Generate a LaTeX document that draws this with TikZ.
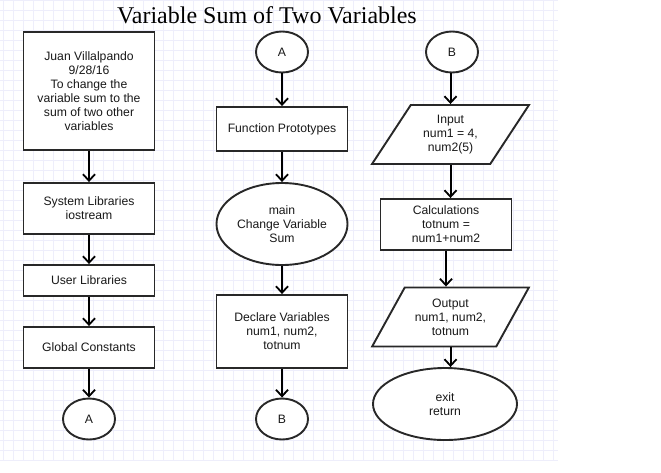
\documentclass[tikz,border=0pt]{standalone}
\usepackage{fontspec}
\setmainfont{Liberation Sans}
\newfontfamily\titlefont{Liberation Serif}
\usetikzlibrary{shapes.geometric,arrows.meta}

\definecolor{gridcol}{RGB}{238,238,251}
\definecolor{edgecol}{RGB}{40,40,40}
\definecolor{textcol}{RGB}{25,25,25}

\tikzset{
  flow/.style={draw=edgecol, line width=1.9pt, fill=white, align=center, text=textcol,
    font=\fontsize{12.2}{14}\selectfont, inner sep=1pt},
  stepbox/.style={flow, rectangle, minimum width=131pt},
  term/.style={flow, ellipse, minimum width=52pt, minimum height=41pt},
  inout/.style={flow, trapezium, trapezium left angle=56, trapezium right angle=124,
    trapezium stretches=true, minimum width=157pt, minimum height=59pt},
  arr/.style={line width=2pt, -{Straight Barb[length=6.5pt,width=12pt,line width=1.8pt]}},
  gridline/.style={gridcol, line width=0.6pt}
}

\begin{document}
\begin{tikzpicture}[x=1pt,y=-1pt]

\useasboundingbox (0,0) rectangle (661,472);
\foreach \x in {3,13,...,553} \draw[gridline] (\x,0) -- (\x,460);
\foreach \y in {0,10,...,460} \draw[gridline] (0,\y) -- (558,\y);

\node[font=\titlefont\fontsize{24}{26}\selectfont, anchor=base] (title) at (267,23) {Variable Sum of Two Variables};

\node[stepbox, minimum height=118pt] (intro) at (89,91) {Juan Villalpando\\9/28/16\\To change the\\variable sum to the\\sum of two other\\variables};
\node[stepbox, minimum height=51pt] (syslib) at (89,208.5) {System Libraries\\iostream};
\node[stepbox, minimum height=31pt] (usrlib) at (89,280.5) {User Libraries};
\node[stepbox, minimum height=41pt] (globconst) at (89,347.5) {Global Constants};
\node[term] (offA) at (89,419) {A};
\draw[arr] (intro) -- (syslib);
\draw[arr] (syslib) -- (usrlib);
\draw[arr] (usrlib) -- (globconst);
\draw[arr] (globconst) -- (offA);

\node[term] (onA) at (282,52) {A};
\node[stepbox, minimum height=44pt] (proto) at (282,129) {Function Prototypes};
\node[flow, ellipse, minimum width=131pt, minimum height=82pt] (main) at (282,224) {main\\Change Variable\\Sum};
\node[stepbox, minimum height=73pt] (declare) at (282,331.5) {Declare Variables\\num1, num2,\\totnum};
\node[term] (offB) at (282,419) {B};
\draw[arr] (onA) -- (proto);
\draw[arr] (proto) -- (main);
\draw[arr] (main) -- (declare);
\draw[arr] (declare) -- (offB);

\node[term] (onB) at (452,52) {B};
\node[inout] (input) at (450.5,134.5) {Input\\num1 = 4,\\num2(5)};
\node[stepbox, minimum height=51pt] (calc) at (446,224.5) {Calculations\\totnum =\\num1+num2};
\node[inout] (output) at (450.5,317) {Output\\num1, num2,\\totnum};
\node[flow, ellipse, minimum width=144pt, minimum height=72pt] (exit) at (445,404) {exit\\return};
\draw[arr] (onB.south -| input.north) -- (input.north);
\draw[arr] (input.south) -- (input.south |- calc.north);
\draw[arr] (calc.south) -- (calc.south |- output.north);
\draw[arr] (output.south) -- (output.south |- exit.north);

\end{tikzpicture}
\end{document}
